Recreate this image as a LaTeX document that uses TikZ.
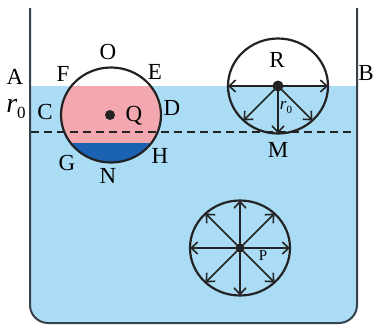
\documentclass[tikz,border=0pt]{standalone}
\usepackage{fontspec}
\setmainfont{Liberation Serif}
\usetikzlibrary{arrows.meta,shapes.geometric}
\definecolor{water}{RGB}{170,221,245}
\definecolor{pinkfill}{RGB}{243,168,175}
\definecolor{deepblue}{RGB}{28,98,178}
\definecolor{ink}{RGB}{35,35,35}
\definecolor{wall}{RGB}{55,65,75}
\newcommand{\fsz}[1]{\fontsize{#1}{#1}\selectfont}
\begin{document}
\begin{tikzpicture}[x=1pt,y=-1pt,
  lbl/.style={font=\fsz{23}, inner sep=0pt},
  drop/.style={ellipse, draw=ink, line width=2.2pt, minimum width=100pt,
               minimum height=95pt, inner sep=0pt, outer sep=0pt},
  force/.style={draw=ink, line width=1.6pt,
                -{Straight Barb[length=6.5pt,width=12pt,line width=1.6pt]}},
  dot/.style={circle, fill=ink, inner sep=0pt, minimum size=#1},
  level/.style={draw=ink, line width=2.5pt, dash pattern=on 8pt off 5pt},
]
\useasboundingbox (0,0) rectangle (373,327);

% liquid in the vessel
\begin{scope}
  \clip (0,86) rectangle (373,330);
  \fill[water, rounded corners=18] (30,0) rectangle (357,323);
\end{scope}

% vessel walls
\coordinate (wtl) at (30,8);
\coordinate (wbl) at (30,323);
\coordinate (wbr) at (357,323);
\coordinate (wtr) at (357,8);
\draw[wall, line width=2pt, rounded corners=18] (wtl) -- (wbl) -- (wbr) -- (wtr);

% bubble at the left wall: gas, liquid film and bottom layer
\begin{scope}
  \clip (111,115) ellipse [x radius=50, y radius=47.5];
  \fill[white] (50,60) rectangle (170,86);
  \fill[pinkfill] (50,86) rectangle (170,143);
  \fill[deepblue] (50,143) rectangle (170,170);
\end{scope}
\node[drop] (Qd) at (111,115) {};
\node[dot=10pt] (Qc) at (110,115) {};

% level line
\coordinate (dl) at (31,132);
\coordinate (dr) at (356,132);
\draw[level] (dl) -- (dr);

% bubble at the surface
\node[drop] (Rd) at (278,86) {};
\node[dot=11pt] (Rc) at (278,86) {};
\foreach \a in {180,225,270,315,0}
  \draw[force] (Rc.center) -- (Rd.\a);

% bubble deep in the liquid
\node[drop] (Pd) at (240,248) {};
\node[dot=9pt] (Pc) at (240,248) {};
\foreach \a in {0,45,...,315}
  \draw[force] (Pc.center) -- (Pd.\a);

% labels
\node[lbl] (lO) at (108,52) {O};
\node[lbl] (lE) at (155,72) {E};
\node[lbl] (lF) at (63,74) {F};
\node[lbl] (lD) at (172,108) {D};
\node[lbl] (lC) at (45,112) {C};
\node[lbl] (lQ) at (134,116) {Q};
\node[lbl] (lG) at (67,163) {G};
\node[lbl] (lH) at (160,156) {H};
\node[lbl] (lN) at (108,176) {N};
\node[lbl] (lA) at (15,77) {A};
\node[inner sep=0pt] (lr) at (16,109)
  {{\fsz{28}\itshape r}\raisebox{-6pt}{\fsz{17}0}};
\node[lbl] (lR) at (277,60) {R};
\node[lbl] (lB) at (366,73) {B};
\node[lbl] (lM) at (278,150) {M};
\node[inner sep=0pt] (lr2) at (286,108)
  {{\fsz{17}\itshape r}\raisebox{-4pt}{\fsz{11}0}};
\node[inner sep=0pt, font=\fsz{15}] (lP) at (263,256) {P};
\end{tikzpicture}
\end{document}
